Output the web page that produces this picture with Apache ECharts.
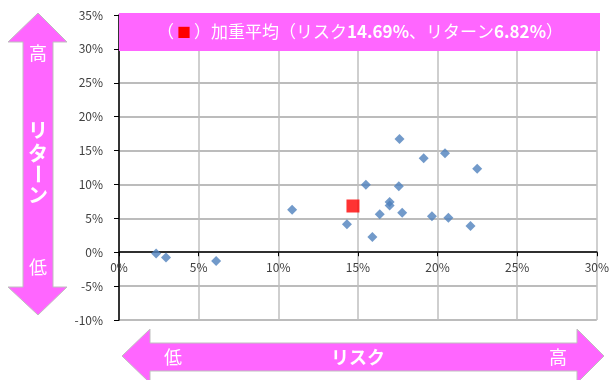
<!DOCTYPE html>
<html><head><meta charset="utf-8">
<script src="https://cdn.jsdelivr.net/npm/echarts@6/dist/echarts.min.js"></script>
<style>html,body{margin:0;padding:0;background:#fff}#c{width:612px;height:380px}</style>
</head><body><div id="c"></div>
<script>
// Fund risk (x, %) and return (y, %)
const riskValues = [2.33, 2.95, 6.1, 10.87, 14.31, 15.5, 15.91, 16.37, 16.99, 16.99, 17.61, 17.57, 17.78, 19.13, 19.65, 20.47, 20.68, 22.07, 22.49];
const returnValues = [-0.19, -0.78, -1.28, 6.28, 4.12, 9.95, 2.25, 5.59, 7.4, 6.9, 16.72, 9.75, 5.84, 13.87, 5.29, 14.6, 5.1, 3.87, 12.3];
const avgRisk = [14.69];
const avgReturn = [6.82];
const xTicks = [0, 5, 10, 15, 20, 25, 30];
const yTicks = [-10, -5, 0, 5, 10, 15, 20, 25, 30, 35];
const titleParts = ['（', '■', '）加重平均（リスク', '14.69%', '、リターン', '6.82%', '）'];
const yArrowLabels = ['高', 'リ', 'タ', 'ー', 'ン', '低'];
const xArrowLabels = ['低', 'リスク', '高'];

const FONT = '"Noto Sans CJK JP", "Noto Sans", sans-serif';
const PINK = '#FF66FF';
const chart = echarts.init(document.getElementById('c'));

const funds = riskValues.map((r, i) => [r, returnValues[i]]);
const avg = avgRisk.map((r, i) => [r, avgReturn[i]]);

const gridTop = 15, gridBottom = 60, H = 380;
const plotH = H - gridTop - gridBottom;
const yMin = yTicks[0], yMax = yTicks[yTicks.length - 1];
const zeroOffset = -plotH * (0 - yMin) / (yMax - yMin);

chart.setOption({
  animation: false,
  grid: {left: 119, right: 12, top: gridTop, bottom: gridBottom},
  xAxis: {
    type: 'value', min: xTicks[0], max: xTicks[xTicks.length - 1], interval: 5,
    offset: zeroOffset,
    axisLine: {onZero: false, lineStyle: {color: '#000', width: 1.5}},
    axisTick: {show: true, length: 4, lineStyle: {color: '#000'}},
    axisLabel: {formatter: v => v + '%', color: '#404040', fontSize: 12, fontFamily: FONT, margin: 9},
    splitLine: {show: true, lineStyle: {color: '#BFBFBF', width: 1.5}}
  },
  yAxis: {
    type: 'value', min: yMin, max: yMax, interval: 5,
    axisLine: {show: true, onZero: false, lineStyle: {color: '#000', width: 1.5}},
    axisTick: {show: true, length: 5, lineStyle: {color: '#000'}},
    axisLabel: {formatter: v => v + '%', color: '#404040', fontSize: 12, fontFamily: FONT, margin: 16},
    splitLine: {show: true, lineStyle: {color: '#A6A6A6', width: 1.5}}
  },
  series: [
    {type: 'scatter', data: funds, symbol: 'diamond', symbolSize: 10,
     itemStyle: {color: '#4F81BD'}, z: 3},
    {type: 'scatter', data: avg, symbol: 'rect', symbolSize: 13,
     itemStyle: {color: '#FF0000'}, z: 4}
  ],
  graphic: [
    {type: 'rect', shape: {x: 119, y: 13, width: 481, height: 38}, style: {fill: PINK}, z: 100},
    {type: 'text', x: 360, y: 32, z: 101, style: {
      text: '{w|' + titleParts[0] + '}{r|' + titleParts[1] + '}{w|' + titleParts[2] + '}{b|' + titleParts[3] + '}{w|' + titleParts[4] + '}{b|' + titleParts[5] + '}{w|' + titleParts[6] + '}',
      align: 'center', verticalAlign: 'middle', fill: '#fff', fontFamily: FONT, fontSize: 17,
      rich: {
        w: {fill: '#fff', fontSize: 17, fontFamily: FONT},
        b: {fill: '#fff', fontSize: 17, fontWeight: 'bold', fontFamily: FONT},
        r: {fill: '#FF0000', fontSize: 14, fontFamily: FONT, padding: [0, 3, 0, 3]}
      }
    }},
    // vertical arrow
    {type: 'polygon', z: 100, shape: {points: [[38,13],[67,42],[53,42],[53,287],[67,287],[38,315],[8,287],[23,287],[23,42],[8,42]]},
     style: {fill: PINK, stroke: '#BFBFBF', lineWidth: 1}},
    {type: 'text', x: 38, y: 53, z: 101, style: {text: yArrowLabels[0], fontSize: 18, align: 'center', verticalAlign: 'middle', fill: '#fff', fontFamily: FONT}},
    {type: 'text', x: 38, y: 130, z: 101, style: {text: yArrowLabels[1], fontSize: 20, fontWeight: 'bold', align: 'center', verticalAlign: 'middle', fill: '#fff', fontFamily: FONT}},
    {type: 'text', x: 38, y: 153, z: 101, style: {text: yArrowLabels[2], fontSize: 20, fontWeight: 'bold', align: 'center', verticalAlign: 'middle', fill: '#fff', fontFamily: FONT}},
    {type: 'text', x: 38, y: 174, rotation: -Math.PI / 2, z: 101, style: {text: yArrowLabels[3], fontSize: 20, fontWeight: 'bold', align: 'center', verticalAlign: 'middle', fill: '#fff', fontFamily: FONT}},
    {type: 'text', x: 38, y: 195, z: 101, style: {text: yArrowLabels[4], fontSize: 20, fontWeight: 'bold', align: 'center', verticalAlign: 'middle', fill: '#fff', fontFamily: FONT}},
    {type: 'text', x: 38, y: 267, z: 101, style: {text: yArrowLabels[5], fontSize: 18, align: 'center', verticalAlign: 'middle', fill: '#fff', fontFamily: FONT}},
    // horizontal arrow
    {type: 'polygon', z: 100, shape: {points: [[122,356],[150,329],[150,343],[577,343],[577,329],[604,356],[577,383],[577,371],[150,371],[150,383]]},
     style: {fill: PINK, stroke: '#BFBFBF', lineWidth: 1}},
    {type: 'text', x: 173, y: 357, z: 101, style: {text: xArrowLabels[0], fontSize: 18, align: 'center', verticalAlign: 'middle', fill: '#fff', fontFamily: FONT}},
    {type: 'text', x: 358, y: 357, z: 101, style: {text: xArrowLabels[1], fontSize: 18, fontWeight: 'bold', align: 'center', verticalAlign: 'middle', fill: '#fff', fontFamily: FONT}},
    {type: 'text', x: 558, y: 357, z: 101, style: {text: xArrowLabels[2], fontSize: 18, align: 'center', verticalAlign: 'middle', fill: '#fff', fontFamily: FONT}}
  ]
});
</script></body></html>
